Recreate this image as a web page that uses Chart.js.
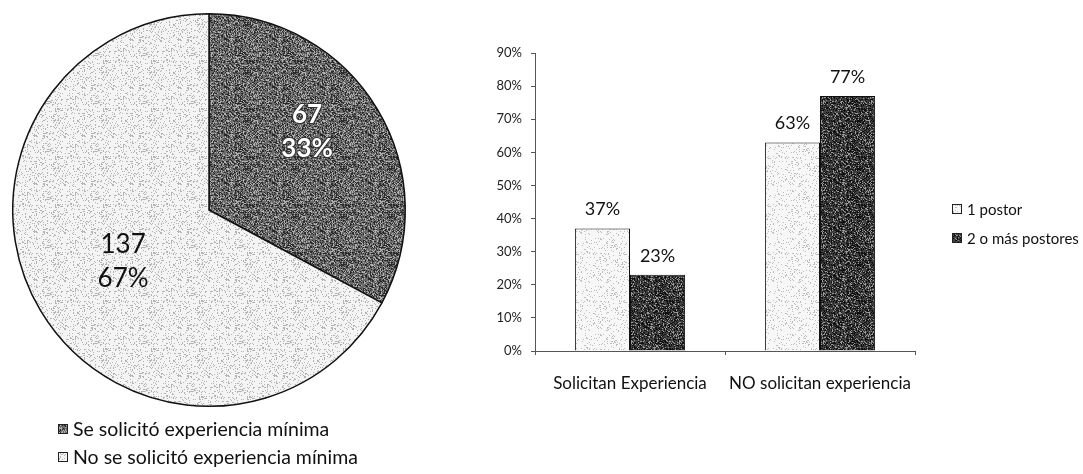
<!DOCTYPE html>
<html>
<head>
<meta charset="utf-8">
<script src="https://cdn.jsdelivr.net/npm/chart.js@4.4.0/dist/chart.umd.min.js"></script>
<style>
html, body { margin: 0; padding: 0; background: #fff; }
#wrap { position: relative; width: 1083px; height: 474px; }
#pieBox { position: absolute; left: 0; top: 0; width: 420px; height: 474px; }
#barBox { position: absolute; left: 420px; top: 0; width: 663px; height: 474px; }
</style>
</head>
<body>
<div id="wrap">
    <div id="pieBox"><canvas id="chart-pie"></canvas></div>
    <div id="barBox"><canvas id="chart-bar"></canvas></div>
</div>
<script>
'use strict';
// [ data ]
var pieLabels = ['Se solicitó experiencia mínima', 'No se solicitó experiencia mínima'];
var pieValues = [67, 137];
var piePercents = [33, 67];

var barCategories = ['Solicitan Experiencia', 'NO solicitan experiencia'];
var seriesNames = ['1 postor', '2 o más postores'];
var onePostor = [37, 63];
var twoPostores = [23, 77];
var yTicks = [0, 10, 20, 30, 40, 50, 60, 70, 80, 90];

Chart.defaults.font.family = 'Lato, "Noto Sans", sans-serif';
Chart.defaults.color = '#111';

// speckled fill, like the scanned original (hash based, no randomness)
function speckle(base, dot, density, dot2, density2) {
    var c = document.createElement('canvas');
    c.width = 48; c.height = 48;
    var g = c.getContext('2d');
    g.fillStyle = base;
    g.fillRect(0, 0, 48, 48);
    for (var y = 0; y < 48; y++) {
        for (var x = 0; x < 48; x++) {
            var h = Math.sin(x * 12.9898 + y * 78.233) * 43758.5453;
            h = h - Math.floor(h);
            if (h < density) { g.fillStyle = dot; g.fillRect(x, y, 1, 1); }
            else if (dot2 && h > 1 - density2) { g.fillStyle = dot2; g.fillRect(x, y, 1, 1); }
        }
    }
    return g.createPattern(c, 'repeat');
}

var pieCtx = document.getElementById('chart-pie').getContext('2d');
var darkPie = speckle('#6a6a6a', '#2a2a2a', 0.3, '#b0b0b0', 0.2);
var lightPie = speckle('#f4f4f4', '#b4b4b4', 0.18);
var darkBar = speckle('#404040', '#111111', 0.35, '#9a9a9a', 0.15);
var lightBar = speckle('#f7f7f7', '#bdbdbd', 0.12);

// small legend drawn at fixed spot (box + text)
function drawLegend(ctx, names, colors, x, y, gap, fontSize) {
    ctx.save();
    ctx.font = fontSize + 'px Lato, "Noto Sans", sans-serif';
    ctx.textBaseline = 'middle';
    ctx.textAlign = 'left';
    names.forEach(function(name, i) {
        var cy = y + i * gap;
        ctx.fillStyle = colors[i];
        ctx.fillRect(x, cy - 5, 10, 10);
        ctx.strokeStyle = '#222';
        ctx.lineWidth = 1;
        ctx.strokeRect(x + 0.5, cy - 4.5, 9, 9);
        ctx.fillStyle = '#111';
        ctx.fillText(name, x + 15, cy + 1);
    });
    ctx.restore();
}

// [ pie-chart ] start
var pieLabelRadius = [0.64, 0.51];
var pieLabelShift = [-7.8 * Math.PI / 180, 0];
var pieExtras = {
    id: 'pieExtras',
    afterDatasetsDraw: function(chart) {
        var ctx = chart.ctx;
        var meta = chart.getDatasetMeta(0);
        ctx.save();
        ctx.textAlign = 'center';
        ctx.textBaseline = 'middle';
        meta.data.forEach(function(arc, i) {
            var mid = (arc.startAngle + arc.endAngle) / 2 + pieLabelShift[i];
            var r = arc.outerRadius * pieLabelRadius[i];
            var x = arc.x + Math.cos(mid) * r;
            var y = arc.y + Math.sin(mid) * r;
            if (i === 0) {
                ctx.font = 'bold 26px Lato, "Noto Sans", sans-serif';
                ctx.fillStyle = '#fff';
                ctx.strokeStyle = '#333';
                ctx.lineWidth = 2;
                ctx.strokeText(pieValues[i], x, y - 17);
                ctx.strokeText(piePercents[i] + '%', x, y + 17);
            } else {
                ctx.font = '26px Lato, "Noto Sans", sans-serif';
                ctx.fillStyle = '#111';
            }
            ctx.fillText(pieValues[i], x, y - 17);
            ctx.fillText(piePercents[i] + '%', x, y + 17);
        });
        ctx.restore();
        drawLegend(ctx, pieLabels, [darkPie, lightPie], 58, 429, 28, 19.5);
    }
};

var myPieChart = new Chart(pieCtx, {
    type: 'pie',
    data: {
        labels: pieLabels,
        datasets: [{
            data: pieValues,
            backgroundColor: [darkPie, lightPie],
            borderColor: '#111',
            borderWidth: 1.5
        }]
    },
    options: {
        responsive: true,
        maintainAspectRatio: false,
        animation: false,
        layout: { padding: { top: 13, bottom: 67, left: 0, right: 2 } },
        plugins: { legend: { display: false }, tooltip: { enabled: false } }
    },
    plugins: [pieExtras]
});
// [ pie-chart ] end

// [ bar-chart ] start
var barExtras = {
    id: 'barExtras',
    afterDatasetsDraw: function(chart) {
        var ctx = chart.ctx;
        ctx.save();
        ctx.font = '18px Lato, "Noto Sans", sans-serif';
        ctx.fillStyle = '#111';
        ctx.textAlign = 'center';
        ctx.textBaseline = 'middle';
        chart.data.datasets.forEach(function(ds, d) {
            chart.getDatasetMeta(d).data.forEach(function(bar, i) {
                ctx.fillText(ds.data[i] + '%', bar.x, bar.y - 19);
            });
        });
        ctx.restore();
        drawLegend(ctx, seriesNames, [lightBar, darkBar], 532, 209, 29, 15);
    }
};

var bar = document.getElementById('chart-bar').getContext('2d');
var myBarChart = new Chart(bar, {
    type: 'bar',
    data: {
        labels: barCategories,
        datasets: [{
            label: seriesNames[0],
            data: onePostor,
            backgroundColor: lightBar,
            borderColor: '#111',
            borderWidth: 1
        }, {
            label: seriesNames[1],
            data: twoPostores,
            backgroundColor: darkBar,
            borderColor: '#111',
            borderWidth: 1
        }]
    },
    options: {
        responsive: true,
        maintainAspectRatio: false,
        animation: false,
        layout: { padding: { top: 53, bottom: 0, left: 0, right: 168 } },
        datasets: { bar: { categoryPercentage: 0.58, barPercentage: 1 } },
        plugins: { legend: { display: false }, tooltip: { enabled: false } },
        scales: {
            x: {
                grid: { drawOnChartArea: false, offset: true, tickLength: 4, color: '#555' },
                border: { color: '#555', width: 1 },
                ticks: { font: { size: 17 }, color: '#111', padding: 18, maxRotation: 0, autoSkip: false },
                afterFit: function(s) { s.height = 123; }
            },
            y: {
                min: yTicks[0],
                max: yTicks[yTicks.length - 1],
                grid: { drawOnChartArea: false, tickLength: 4, color: '#555' },
                border: { color: '#555', width: 1 },
                ticks: {
                    stepSize: yTicks[1] - yTicks[0],
                    font: { size: 13 },
                    color: '#222',
                    padding: 9,
                    callback: function(v) { return v + '%'; }
                },
                afterFit: function(s) { s.width = 115; }
            }
        }
    },
    plugins: [barExtras]
});
// [ bar-chart ] end
</script>
</body>
</html>
